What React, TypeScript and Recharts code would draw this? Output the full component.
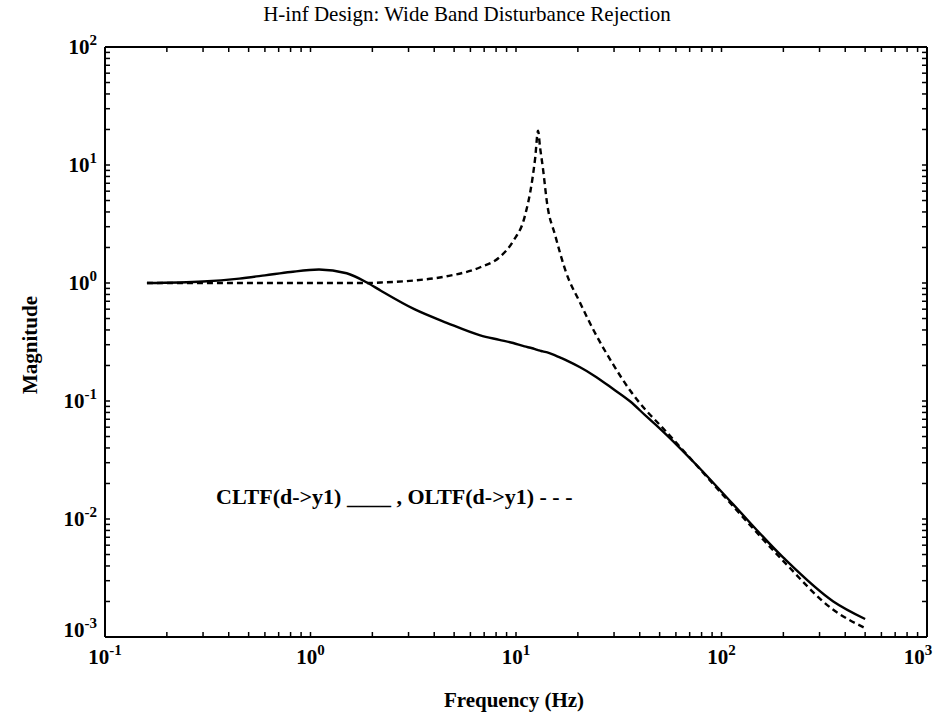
import React from 'react';
import { LineChart, Line, XAxis, YAxis } from 'recharts';

// frequency grid (Hz) and magnitudes
const freqHz = [0.16, 0.3, 0.45, 0.6, 0.8, 1.1, 1.5, 1.9, 2.2, 3.2, 4.6, 6.7, 8.3, 9.7, 11, 12, 12.4, 12.8, 13.1, 13.5, 14.2, 15.5, 17.5, 20.5, 24, 29.6, 36, 43, 50, 75, 114, 200, 350, 500];
const cltf = [1.0, 1.03, 1.09, 1.16, 1.24, 1.3, 1.21, 1.0, 0.86, 0.6, 0.46, 0.36, 0.33, 0.31, 0.29, 0.28, 0.275, 0.27, 0.267, 0.263, 0.258, 0.244, 0.222, 0.193, 0.164, 0.127, 0.099, 0.0743, 0.0587, 0.0291, 0.0133, 0.0047, 0.002, 0.00142];
const oltf = [1.0, 1.0, 1.0, 1.0, 1.0, 1.0, 1.0, 1.0, 1.01, 1.05, 1.14, 1.36, 1.65, 2.27, 3.6, 7.5, 11.5, 19.5, 14, 9.6, 4.6, 2.55, 1.24, 0.68, 0.39, 0.206, 0.122, 0.083, 0.063, 0.029, 0.0128, 0.0044, 0.0017, 0.00119];

const xDecades = [0.1, 1, 10, 100, 1000];
const yDecades = [0.001, 0.01, 0.1, 1, 10, 100];
const minorSteps = [2, 3, 4, 5, 6, 7, 8, 9];

const withMinors = (decades: number[]) => {
    const out: number[] = [];
    decades.forEach((d, i) => {
        out.push(d);
        if (i < decades.length - 1) minorSteps.forEach((m) => out.push(d * m));
    });
    return out;
};

const xTicks = withMinors(xDecades);
const yTicks = withMinors(yDecades);
const data = freqHz.map((f, i) => ({ f, cl: cltf[i], ol: oltf[i] }));

const FONT = '"Liberation Serif", "Times New Roman", serif';
const TICK_LEN = 5;

const decadeExp = (v: number) => {
    const e = Math.log10(v);
    return Math.abs(e - Math.round(e)) < 1e-6 ? Math.round(e) : null;
};

const powerLabel = (x: number, y: number, exp: number, anchor: string) => (
    <text x={x} y={y} textAnchor={anchor} fontFamily={FONT} fontWeight="bold" fontSize={21} fill="#000">
        10<tspan dy={-9} fontSize={15}>{exp}</tspan>
    </text>
);

const bottomTick = (props: any) => {
    const { x, y, payload } = props;
    const exp = decadeExp(payload.value);
    return (
        <g>
            <path d={`M${x},${y}V${y - TICK_LEN}`} stroke="#000" strokeWidth={1.5} />
            {exp !== null && powerLabel(exp === 3 ? x - 9 : x, y + 27, exp, 'middle')}
        </g>
    );
};

const topTick = (props: any) => {
    const { x, y } = props;
    return <path d={`M${x},${y}V${y + TICK_LEN}`} stroke="#000" strokeWidth={1.5} />;
};

const leftTick = (props: any) => {
    const { x, y, payload } = props;
    const exp = decadeExp(payload.value);
    return (
        <g>
            <path d={`M${x},${y}H${x + TICK_LEN}`} stroke="#000" strokeWidth={1.5} />
            {exp !== null && powerLabel(x - 8, exp === -3 ? y : y + 7, exp, 'end')}
        </g>
    );
};

const rightTick = (props: any) => {
    const { x, y } = props;
    return <path d={`M${x},${y}H${x - TICK_LEN}`} stroke="#000" strokeWidth={1.5} />;
};

const frame = { stroke: '#000', strokeWidth: 2 };

export default function App() {
    return (
        <div style={{ position: 'absolute', left: 0, top: 0, width: 937, height: 717, background: '#fff', fontFamily: FONT }}>
            <LineChart width={937} height={717} data={data} margin={{ top: 46, right: 9, bottom: 40, left: 45 }}>
                <XAxis xAxisId={0} dataKey="f" type="number" scale="log" domain={[0.1, 1000]} ticks={xTicks} interval={0}
                    allowDataOverflow height={40} tickSize={0} tickMargin={0} tickLine={false} stroke="#000" axisLine={frame} tick={bottomTick} />
                <XAxis xAxisId={1} orientation="top" dataKey="f" type="number" scale="log" domain={[0.1, 1000]} ticks={xTicks} interval={0}
                    allowDataOverflow height={1} tickSize={0} tickMargin={0} tickLine={false} stroke="#000" axisLine={frame} tick={topTick} />
                <YAxis yAxisId={0} type="number" scale="log" domain={[0.001, 100]} ticks={yTicks} interval={0}
                    allowDataOverflow width={60} tickSize={0} tickMargin={0} tickLine={false} stroke="#000" axisLine={frame} tick={leftTick} />
                <YAxis yAxisId={1} orientation="right" type="number" scale="log" domain={[0.001, 100]} ticks={yTicks} interval={0}
                    allowDataOverflow width={1} tickSize={0} tickMargin={0} tickLine={false} stroke="#000" axisLine={frame} tick={rightTick} />
                <Line xAxisId={0} yAxisId={0} type="monotone" dataKey="cl" stroke="#000" strokeWidth={2.4} dot={false} isAnimationActive={false} />
                <Line xAxisId={0} yAxisId={0} type="monotone" dataKey="ol" stroke="#000" strokeWidth={2.4} strokeDasharray="6 4" dot={false} isAnimationActive={false} />
            </LineChart>

            <div style={{ position: 'absolute', left: 467, top: 2, transform: 'translateX(-50%)', whiteSpace: 'nowrap', fontSize: 21 }}>
                H-inf Design: Wide Band Disturbance Rejection
            </div>
            <div style={{ position: 'absolute', left: 514, top: 688, transform: 'translateX(-50%)', whiteSpace: 'nowrap', fontSize: 21, fontWeight: 'bold' }}>
                Frequency (Hz)
            </div>
            <div style={{ position: 'absolute', left: 30, top: 345, transform: 'translate(-50%, -50%) rotate(-90deg)', whiteSpace: 'nowrap', fontSize: 21, fontWeight: 'bold' }}>
                Magnitude
            </div>
            <div style={{ position: 'absolute', left: 216, top: 484, whiteSpace: 'nowrap', fontSize: 22, fontWeight: 'bold' }}>
                CLTF(d-&gt;y1) ____ , OLTF(d-&gt;y1) - - -
            </div>
        </div>
    );
}
